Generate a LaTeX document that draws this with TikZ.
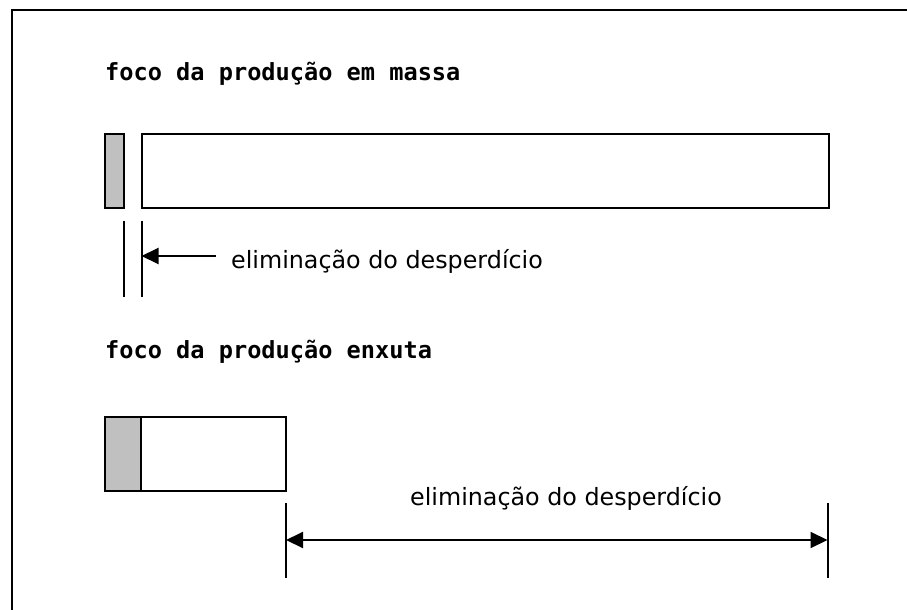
\documentclass[tikz,border=0pt]{standalone}
\usepackage{fontspec}
\setmainfont{DejaVu Sans}
\newfontfamily\headfont{DejaVu Sans Mono}
\usetikzlibrary{arrows.meta}
\definecolor{wastegray}{RGB}{192,192,192}
\tikzset{
  box/.style={draw,line width=2pt,inner sep=0pt,minimum height=74pt,anchor=north west},
  wastebox/.style={box,fill=wastegray},
  valuebox/.style={box,fill=white},
  heading/.style={anchor=base west,inner sep=0pt,font=\headfont\bfseries\fontsize{23.6}{28}\selectfont},
  label/.style={inner sep=0pt,font=\fontsize{23.8}{28}\selectfont},
  tickline/.style={line width=2pt},
  arr/.style={line width=2pt,-{Triangle[length=17pt,width=16pt]}},
  dblarr/.style={line width=2pt,{Triangle[length=17pt,width=16pt]}-{Triangle[length=17pt,width=16pt]}},
}
\begin{document}
\begin{tikzpicture}[x=1pt,y=-1pt]
  \clip (0,0) rectangle (907,610);
  \draw[line width=2.6pt] (12,630) -- (12,10) -- (930,10);
  % producao em massa
  \node[heading] (mass) at (105,81) {foco da produção em massa};
  \node[wastebox,minimum width=19pt] (waste1) at (103.5,133) {};
  \node[valuebox,minimum width=687pt] (value1) at (140.5,133) {};
  \coordinate (m1t) at (123.5,221);
  \coordinate (m1b) at (123.5,297);
  \coordinate (m2t) at (141.5,221);
  \coordinate (m2b) at (141.5,297);
  \draw[tickline] (m1t) -- (m1b);
  \draw[tickline] (m2t) -- (m2b);
  \coordinate (tail1) at (216,256);
  \node[label,anchor=base west] (elim1) at (231,268) {eliminação do desperdício};
  \draw[arr] (tail1) -- (m2t |- tail1);
  % producao enxuta
  \node[heading] (lean) at (105,358) {foco da produção enxuta};
  \node[wastebox,minimum width=36pt] (waste2) at (103.5,415.5) {};
  \node[valuebox,minimum width=145pt] (value2) at (139.5,415.5) {};
  \coordinate (m3t) at (286,503);
  \coordinate (m3b) at (286,578);
  \coordinate (m4t) at (827.5,503);
  \coordinate (m4b) at (827.5,578);
  \draw[tickline] (m3t) -- (m3b);
  \draw[tickline] (m4t) -- (m4b);
  \coordinate (a3) at (286,540);
  \draw[dblarr] (a3) -- (m4t |- a3);
  \node[label,anchor=base] (elim2) at (566,505) {eliminação do desperdício};
\end{tikzpicture}
\end{document}
